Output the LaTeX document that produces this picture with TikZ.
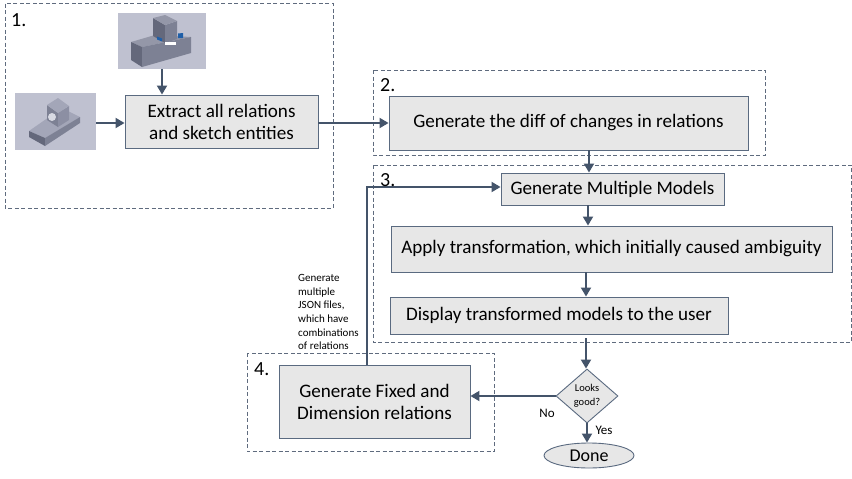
\documentclass[tikz,border=0pt]{standalone}
\usepackage{fontspec}
\setmainfont{Carlito}
\usetikzlibrary{arrows.meta,shapes.geometric}
\definecolor{linec}{HTML}{44546A}
\definecolor{boxline}{HTML}{5A6A80}
\definecolor{boxf}{HTML}{E7E7E7}
\definecolor{dashc}{HTML}{5F6B7E}
\definecolor{photo}{HTML}{BFC1D0}
\definecolor{solidA}{HTML}{7D8194}
\definecolor{solidB}{HTML}{64687B}
\definecolor{solidC}{HTML}{9497A8}
\definecolor{solidD}{HTML}{A3A6B8}
\definecolor{solidE}{HTML}{8C8FA3}
\definecolor{marker}{HTML}{1F5FA8}
\tikzset{
 x=1pt,y=-1pt,
 flow/.style={draw=boxline,line width=0.9pt,fill=boxf,inner sep=0pt,align=center,font=\fontsize{19.1}{22}\selectfont},
 group/.style={draw=dashc,line width=0.8pt,dash pattern=on 4pt off 2.5pt},
 conn/.style={draw=linec,line width=1.8pt,-{Triangle[length=9pt,width=10pt]}},
 num/.style={font=\fontsize{20}{22}\selectfont,inner sep=0pt,anchor=west},
 small/.style={font=\fontsize{11}{13.7}\selectfont,inner sep=0pt,align=left,anchor=north west},
 lab/.style={font=\fontsize{13}{14}\selectfont,inner sep=0pt},
 pic/.style={fill=photo,draw=none,minimum width=0pt,inner sep=0pt},
}
\newcommand{\boxat}[6]{\node[flow,minimum width=#4 pt,minimum height=#5 pt] (#1) at (#2,#3) {#6};}
\begin{document}
\begin{tikzpicture}
\useasboundingbox[fill=white] (0,0) rectangle (852,479);
% groups
\draw[group] (5,3.5) rectangle (333,208);
\draw[group] (373,70) rectangle (765,155);
\draw[group] (373,165) rectangle (851.5,342);
\draw[group] (247,353) rectangle (494,451.5);
% images
\node[pic,minimum width=88pt,minimum height=56pt] (imgA) at (162,41) {};
\node[pic,minimum width=81pt,minimum height=57pt] (imgB) at (55.5,121.5) {};
% model A
\fill[solidC] (131,42) -- (155,35) -- (191,37) -- (142,47) -- cycle;
\fill[solidB] (131,42) -- (142,47) -- (142,67) -- (131,60) -- cycle;
\fill[solidA] (142,47) -- (191,37) -- (191,53) -- (142,67) -- cycle;
\fill[solidB] (153,18) -- (165,25) -- (165,43) -- (153,36) -- cycle;
\fill[solidA] (165,25) -- (177,21) -- (177,39) -- (165,43) -- cycle;
\fill[solidC] (153,18) -- (165,15) -- (177,21) -- (165,25) -- cycle;
\fill[marker] (157,36.5) -- (162,38.5) -- (162,41.5) -- (157,39.5) -- cycle;
\fill[marker] (178,33.5) -- (183,33) -- (183,38) -- (178,38) -- cycle;
\fill[white] (165,42) rectangle (176,45);
% model B
\fill[solidD] (29,131) -- (62,108) -- (80,117) -- (45,138) -- cycle;
\fill[solidB] (29,131) -- (45,138) -- (45,146) -- (29,137) -- cycle;
\fill[solidA] (45,138) -- (80,117) -- (80,123) -- (45,146) -- cycle;
\fill[solidA] (47,105) -- (58,113) -- (58,127) -- (47,120) -- cycle;
\fill[solidE] (58,113) -- (69,106) -- (69,120) -- (58,127) -- cycle;
\fill[solidD] (47,105) -- (58,98) -- (69,106) -- (58,113) -- cycle;
\fill[photo!60!white] (52,117) circle (4);
% boxes
\boxat{extract}{221.5}{121.5}{193}{53}{Extract all relations\\and sketch entities}
\boxat{diff}{568.5}{123}{359}{54}{Generate the diff of changes in relations}
\boxat{multi}{612.5}{189}{223}{32}{Generate Multiple Models}
\boxat{apply}{611.5}{249}{441}{46}{Apply transformation, which initially caused ambiguity}
\boxat{display}{559}{315.5}{338}{37}{Display transformed models to the user}
\boxat{fixed}{374.5}{401.5}{191}{73}{Generate Fixed and\\Dimension relations}
\node[diamond,draw=boxline,line width=0.9pt,fill=boxf,aspect=1.15,minimum width=62pt,minimum height=54pt,inner sep=0pt,align=center,font=\fontsize{10.5}{13.5}\selectfont] (good) at (587,396) {Looks\\good?};
\node[ellipse,draw=boxline,line width=0.9pt,fill=boxf,minimum width=90pt,minimum height=25pt,inner sep=0pt,font=\fontsize{18}{20}\selectfont] (done) at (589,455.5) {Done};
% connectors
\draw[conn] (imgA.south) -- (imgA.south |- extract.north);
\draw[conn] (imgB.east |- 0,123) -- (extract.west |- 0,123);
\draw[conn] (extract.east |- 0,123) -- (diff.west |- 0,123);
\draw[conn] (diff.south -| 589,0) -- (multi.north -| 589,0);
\draw[conn] (multi.south -| 588,0) -- (apply.north -| 588,0);
\draw[conn] (apply.south -| 586,0) -- (display.north -| 586,0);
\draw[conn] (586,338) -- (good.north -| 586,0);
\draw[conn] (good.west) -- (fixed.east |- good.west);
\draw[conn] (good.south) -- (done.north -| good.south);
\draw[conn] (fixed.north -| 367,0) -- (367,187) -- (multi.west |- 0,187);
% labels
\node[num] (n1) at (11,20) {1.};
\node[num] (n2) at (380,85) {2.};
\node[num] (n3) at (380,180) {3.};
\node[num] (n4) at (254,369) {4.};
\node[small] (note) at (298,274) {Generate\\multiple\\JSON files,\\which have\\combinations\\of relations};
\node[lab] (no) at (547,413) {No};
\node[lab] (yes) at (604,430) {Yes};
\end{tikzpicture}
\end{document}
